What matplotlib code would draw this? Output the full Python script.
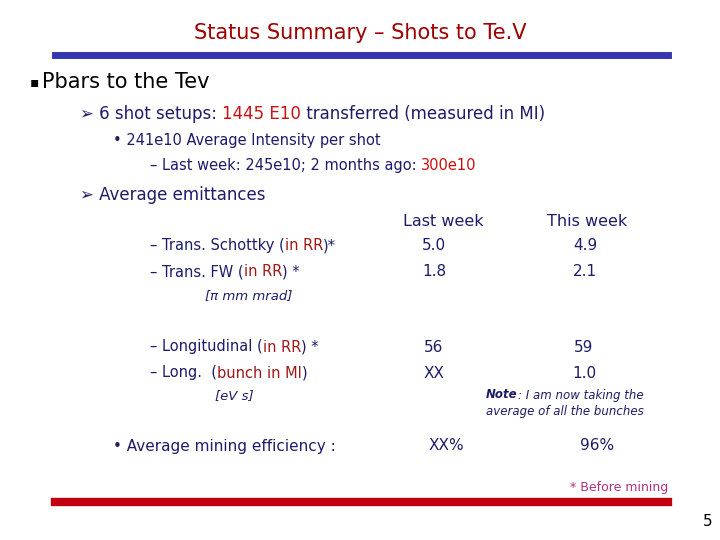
import matplotlib
matplotlib.use("Agg")
import matplotlib.pyplot as plt

title = "Status Summary – Shots to Te.V"
col_headers = ["Last week", "This week"]
emit_labels = ["Trans. Schottky", "Trans. FW"]
last_week_trans = ["5.0", "1.8"]
this_week_trans = ["4.9", "2.1"]
long_labels = ["Longitudinal", "Long."]
last_week_long = ["56", "XX"]
this_week_long = ["59", "1.0"]
mining_last, mining_this = "XX%", "96%"

fig = plt.figure(figsize=(7.2, 5.4), dpi=100)
fig.patch.set_facecolor("white")
W, H = 720, 540
R = fig.canvas.get_renderer()
def P(x, y): return x / W, 1 - y / H
def T(x, y, s, **kw):
    kw.setdefault("va", "center")
    return fig.text(*P(x, y), s, **kw)
def chain(x, y, parts, fs, **kw):
    for s, c in parts:
        t = T(x, y, s, color=c, fontsize=fs, **kw)
        x = t.get_window_extent(R).x1

NAVY = "#1c1c6a"
RED = "#cc1010"
MAR = "#a01818"
MAG = "#b03080"

T(360, 33, title, ha="center", color="#a00000", fontsize=15)
fig.add_artist(plt.Line2D([55/W, 668/W], [1-55/H]*2, color="#3636b0", lw=5))
fig.add_artist(plt.Line2D([55/W, 668/W], [1-502/H]*2, color="#c00010", lw=6))

T(30, 82, "▪", color="black", fontsize=10)
T(42, 82, "Pbars to the Tev", color="black", fontsize=15)
chain(80, 114, [("➢ 6 shot setups: ", NAVY), ("1445 E10", RED),
                (" transferred (measured in MI)", NAVY)], 12)
T(113, 141, "• 241e10 Average Intensity per shot", color=NAVY, fontsize=10.5)
chain(150, 166, [("– Last week: 245e10; 2 months ago: ", NAVY), ("300e10", RED)], 10.5)
T(80, 195, "➢ Average emittances", color=NAVY, fontsize=12)

T(443, 221, col_headers[0], ha="center", color=NAVY, fontsize=11.5)
T(587, 221, col_headers[1], ha="center", color=NAVY, fontsize=11.5)
for i, y in enumerate([246, 272]):
    chain(150, y, [("– " + emit_labels[i] + " (", NAVY), ("in RR", MAR),
                   (")*" if i == 0 else ") *", NAVY)], 10.5)
    T(434, y, last_week_trans[i], ha="center", color=NAVY, fontsize=11)
    T(585, y, this_week_trans[i], ha="center", color=NAVY, fontsize=11)
T(205, 296, "[π mm mrad]", color=NAVY, fontsize=9.5, style="italic")

chain(150, 347, [("– " + long_labels[0] + " (", NAVY), ("in RR", MAR), (") *", NAVY)], 10.5)
chain(150, 373, [("– " + long_labels[1] + "  (", NAVY), ("bunch in MI", MAR), (")", NAVY)], 10.5)
for i, y in enumerate([347, 373]):
    T(434, y, last_week_long[i], ha="center", color=NAVY, fontsize=11)
    T(584, y, this_week_long[i], ha="center", color=NAVY, fontsize=11)
T(215, 396, "[eV s]", color=NAVY, fontsize=9.5, style="italic")
t = T(486, 395, "Note", color=NAVY, fontsize=8.5, style="italic", fontweight="bold")
T(t.get_window_extent(R).x1, 395, ": I am now taking the", color=NAVY, fontsize=8.5, style="italic")
T(486, 412, "average of all the bunches", color=NAVY, fontsize=8.5, style="italic")

T(113, 446, "• Average mining efficiency :", color=NAVY, fontsize=11)
T(446, 446, mining_last, ha="center", color=NAVY, fontsize=11)
T(597, 446, mining_this, ha="center", color=NAVY, fontsize=11)
T(668, 488, "* Before mining", ha="right", color=MAG, fontsize=9)
T(708, 522, "5", ha="center", color="black", fontsize=11)

fig.savefig("out.png", dpi=100)
